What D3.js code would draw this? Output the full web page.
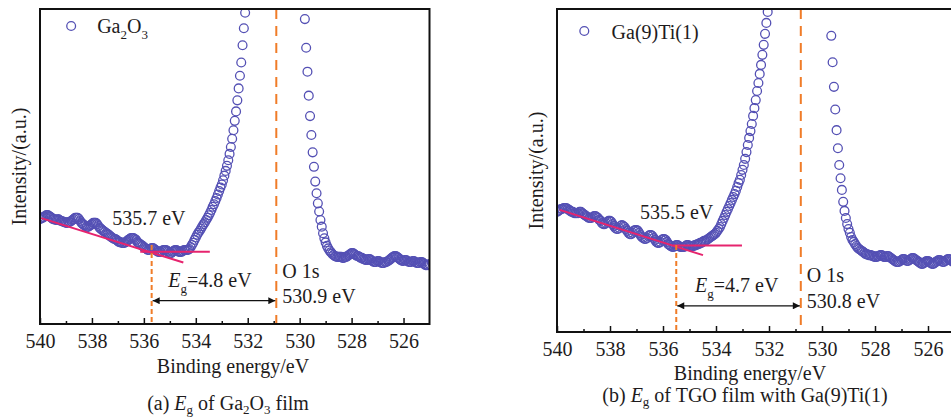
<!DOCTYPE html>
<html>
<head>
<meta charset="utf-8">
<script src="https://cdn.jsdelivr.net/npm/d3@7"></script>
<style>
  body { margin: 0; background: #fff; }
  svg { display: block; }
</style>
</head>
<body>
<div id="chart"></div>
<script>
// XPS scan: 540 eV down to 525 eV, one point every 0.05 eV
const scanStart = 540
const scanStep = 0.05

const xTicks = [540, 538, 536, 534, 532, 530, 528, 526]
const xMinorTicks = [539, 537, 535, 533, 531, 529, 527]

// O 1s region, intensity in a.u. (points above 100 run off the top of the frame)
const ga2o3Intensity = [
  33.3, 33.7, 33.7, 34.0, 34.3, 34.6, 34.6, 34.3, 34.0, 33.7,
  33.3, 33.3, 33.0, 33.0, 33.3, 33.0, 32.7, 32.7, 32.4, 32.4,
  32.1, 32.1, 32.4, 32.4, 32.7, 33.0, 33.3, 33.7, 33.7, 33.7,
  33.3, 32.7, 32.1, 31.7, 31.4, 31.1, 30.8, 30.8, 31.1, 31.4,
  31.7, 32.1, 32.1, 32.1, 31.7, 31.1, 30.5, 30.2, 29.8, 29.5,
  29.2, 28.9, 28.6, 28.3, 27.9, 27.6, 27.3, 27.0, 27.0, 26.7,
  26.3, 26.0, 26.0, 25.7, 25.7, 25.7, 26.0, 26.3, 26.7, 27.0,
  27.3, 27.3, 27.3, 27.0, 26.7, 26.0, 25.7, 25.4, 25.1, 24.8,
  24.4, 24.1, 23.8, 23.5, 23.5, 23.8, 24.1, 24.1, 23.8, 23.5,
  23.2, 22.9, 22.9, 22.9, 23.2, 23.5, 23.5, 23.5, 23.2, 22.9,
  22.5, 22.5, 22.9, 23.2, 23.5, 23.5, 23.2, 22.9, 22.9, 22.9,
  23.2, 23.5, 23.5, 23.5, 23.5, 23.8, 24.4, 25.1, 25.8, 26.7,
  27.5, 28.3, 29.0, 29.6, 30.3, 31.0, 31.7, 32.3, 33.0, 33.7,
  34.5, 35.3, 36.2, 37.2, 38.0, 39.0, 40.0, 41.1, 42.2, 43.3,
  44.3, 45.6, 47.1, 48.6, 50.2, 52.0, 54.0, 56.2, 58.8, 61.5,
  64.5, 67.5, 71.0, 74.8, 78.8, 83.0, 88.5, 93.9, 98.8, 104,
  110, 117, 125, 134, 144, 155, 167, 180, 194, 209,
  224, 240, 256, 272, 287, 301, 314, 326, 336, 345,
  352, 357, 360, 361, 360, 357, 352, 345, 335, 323,
  309, 293, 276, 258, 240, 222, 205, 188, 172, 157,
  143, 130, 118, 107, 96.8, 87.7, 80.1, 72.5, 66.0, 60.0,
  54.5, 49.9, 45.2, 41.5, 38.3, 35.7, 33.0, 30.9, 28.8, 27.2,
  25.9, 24.8, 24.0, 23.3, 22.8, 22.3, 21.9, 21.6, 21.4, 21.3,
  21.3, 21.3, 21.3, 21.0, 21.0, 21.3, 21.3, 21.6, 21.9, 22.2,
  22.5, 22.5, 22.2, 21.9, 21.6, 21.6, 21.3, 21.0, 21.0, 20.6,
  20.6, 20.3, 20.3, 20.6, 20.6, 20.3, 20.0, 19.7, 19.7, 19.7,
  20.0, 20.0, 19.7, 19.4, 19.4, 19.4, 19.7, 19.7, 20.0, 20.3,
  20.6, 21.0, 21.3, 21.6, 21.6, 21.3, 21.0, 20.6, 20.3, 20.0,
  20.0, 20.3, 20.3, 20.0, 19.7, 19.7, 19.7, 20.0, 20.0, 19.7,
  19.4, 19.4, 19.4, 19.7, 19.7, 19.4, 19.0, 18.7, 18.7, 18.7,
  19.0
]

const tgoIntensity = [
  37.2, 37.5, 37.8, 38.1, 38.1, 38.4, 38.4, 38.4, 38.1, 37.8,
  37.5, 37.2, 37.2, 36.8, 36.8, 36.8, 36.8, 37.2, 37.2, 36.8,
  36.5, 36.2, 35.9, 35.6, 35.3, 35.3, 35.3, 35.6, 35.9, 35.9,
  35.6, 35.3, 34.7, 34.4, 33.7, 33.4, 33.4, 33.7, 34.1, 34.4,
  34.4, 34.1, 33.4, 32.8, 32.2, 31.9, 31.9, 32.2, 32.8, 33.1,
  32.8, 32.5, 31.9, 31.3, 30.7, 30.3, 30.3, 30.7, 31.3, 31.6,
  31.6, 31.3, 30.7, 30.0, 29.4, 29.1, 28.8, 28.8, 29.1, 29.7,
  30.0, 30.0, 29.7, 29.1, 28.5, 27.9, 27.6, 27.6, 27.9, 28.5,
  28.8, 28.8, 28.5, 27.9, 27.2, 26.9, 26.6, 26.3, 26.3, 26.6,
  26.9, 26.9, 26.6, 26.3, 26.3, 26.3, 26.3, 26.6, 26.9, 26.9,
  26.6, 26.6, 26.6, 26.6, 26.9, 26.9, 27.2, 27.2, 27.6, 27.6,
  27.9, 28.2, 28.2, 28.5, 28.8, 29.1, 29.4, 29.7, 30.0, 30.3,
  30.7, 31.3, 31.9, 32.5, 33.4, 34.4, 35.3, 36.2, 37.2, 38.1,
  39.0, 39.9, 40.9, 41.8, 42.7, 43.7, 44.9, 46.1, 47.1, 48.6,
  50.2, 51.7, 53.6, 55.7, 57.9, 60.1, 62.2, 64.4, 66.9, 69.3,
  71.8, 74.6, 77.1, 79.9, 82.7, 85.8, 88.9, 92.3, 95.7, 99.1,
  103, 107, 112, 118, 125, 133, 142, 152, 163, 175,
  188, 202, 216, 231, 246, 260, 274, 287, 299, 309,
  318, 325, 330, 333, 334, 334, 333, 331, 328, 323,
  316, 308, 298, 287, 274, 260, 246, 231, 216, 201,
  186, 171, 157, 143, 130, 117, 104, 91.7, 83.5, 75.9,
  68.9, 62.5, 56.9, 51.7, 47.6, 44.0, 40.3, 37.5, 35.3, 33.4,
  31.9, 30.7, 29.4, 28.5, 27.9, 27.2, 26.6, 26.0, 25.7, 25.4,
  25.1, 24.8, 24.5, 24.1, 24.1, 23.8, 23.8, 23.8, 23.5, 23.5,
  23.2, 23.2, 23.5, 23.5, 23.8, 23.8, 23.5, 23.2, 23.2, 23.5,
  23.5, 23.2, 22.9, 22.6, 22.3, 22.0, 21.7, 21.7, 21.7, 22.0,
  22.3, 22.6, 22.6, 22.3, 22.0, 22.0, 22.3, 22.6, 22.9, 22.9,
  22.6, 22.3, 22.0, 21.7, 21.4, 21.1, 21.1, 21.4, 21.7, 22.0,
  22.0, 21.7, 21.4, 21.1, 21.1, 21.4, 21.7, 22.0, 22.3, 22.3,
  22.0, 21.7, 21.7, 22.0, 22.3, 22.6, 22.6, 22.3, 22.0, 21.7,
  21.7
]

// Linear fits (binding energy, intensity) used to find the loss onset
const ga2o3Slope = [[539.95, 33.6], [534.48, 19.5]]
const ga2o3Plateau = [[536.14, 22.9], [533.46, 22.9]]
const tgoSlope = [[539.9, 37.8], [534.49, 23.8]]
const tgoPlateau = [[535.62, 26.8], [533.02, 26.8]]

// Onset and O 1s core level positions (eV), and the band gap
const ga2o3Onset = 535.7, ga2o3O1s = 530.9, ga2o3Gap = 4.8
const tgoOnset = 535.5, tgoO1s = 530.8, tgoGap = 4.7

const serif = '"Liberation Serif", "Times New Roman", serif'
const textColor = '#1e1b1c'
const circleColor = '#5450b4'
const fitColor = '#e6246e'
const markerColor = '#f07c28'

const width = 951
const height = 418

const svg = d3.select('#chart')
  .append('svg')
  .attr('width', width)
  .attr('height', height)
  .attr('font-family', serif)

svg.append('rect').attr('width', width).attr('height', height).attr('fill', '#fff')

// Arrow head shared by both Eg arrows
svg.append('defs').append('marker')
  .attr('id', 'arrow-head')
  .attr('viewBox', '0 0 10 10')
  .attr('refX', 10)
  .attr('refY', 5)
  .attr('markerUnits', 'userSpaceOnUse')
  .attr('markerWidth', 10)
  .attr('markerHeight', 7)
  .attr('orient', 'auto-start-reverse')
  .append('path')
  .attr('d', 'M0,0L10,5L0,10Z')
  .attr('fill', '#111')

const panels = [
  {
    left: 40, right: 429.5, top: 9, bottom: 324,
    intensity: ga2o3Intensity, slope: ga2o3Slope, plateau: ga2o3Plateau,
    onset: ga2o3Onset, o1s: ga2o3O1s, gap: ga2o3Gap, onsetTop: 25.1,
    onsetLabel: [537.22, 31.4], gapLabel: [535.06, 11.7], o1sLabel: [14.6, 6.8], arrowLevel: 7.4,
    legendMark: [538.8, 94.6], legendText: [537.8, 92.4],
    legend: [['Ga', false], ['2', true], ['O', false], ['3', true]],
    yLabelX: 26, titleX: 233, titleY: 372.7, captionX: 228, captionY: 409.5,
    caption: [['(a) ', false], ['E', 'i'], ['g', true], [' of Ga', false], ['2', true], ['O', false], ['3', true], [' film', false]]
  },
  {
    left: 557, right: 954.5, top: 9, bottom: 332,
    intensity: tgoIntensity, slope: tgoSlope, plateau: tgoPlateau,
    onset: tgoOnset, o1s: tgoO1s, gap: tgoGap, onsetTop: 26.9,
    onsetLabel: [536.87, 35.0], gapLabel: [534.79, 12.5], o1sLabel: [15.6, 7.3], arrowLevel: 8.1,
    legendMark: [538.97, 93.2], legendText: [537.94, 90.7],
    legend: [['Ga(9)Ti(1)', false]],
    yLabelX: 543, titleX: 750, titleY: 380, captionX: 745, captionY: 401.7,
    caption: [['(b) ', false], ['E', 'i'], ['g', true], [' of TGO film with Ga(9)Ti(1)', false]]
  }
]

// Write a label made of plain, italic and subscript pieces
function addRich(sel, parts, subSize, drop = 6) {
  let shifted = false
  parts.forEach(([txt, kind]) => {
    const t = sel.append('tspan').text(txt)
    if (kind === 'i') t.attr('font-style', 'italic')
    if (kind === true) {
      t.attr('font-size', subSize)
      if (!shifted) { t.attr('dy', drop); shifted = true }
    } else if (shifted) {
      t.attr('dy', -drop)
      shifted = false
    }
  })
}

panels.forEach((p, idx) => {
  const x = d3.scaleLinear().domain([540, 525]).range([p.left, p.right])
  const y = d3.scaleLinear().domain([0, 100]).range([p.bottom, p.top])
  const clipId = `plot-clip-${idx}`

  svg.append('clipPath')
    .attr('id', clipId)
    .append('rect')
    .attr('x', p.left)
    .attr('y', p.top)
    .attr('width', p.right - p.left)
    .attr('height', p.bottom - p.top)

  const g = svg.append('g')

  // Measured points as open circles
  g.append('g')
    .attr('clip-path', `url(#${clipId})`)
    .selectAll('circle')
    .data(p.intensity)
    .join('circle')
    .attr('cx', (d, k) => x(scanStart - k * scanStep))
    .attr('cy', d => y(d))
    .attr('r', 4.4)
    .attr('fill', 'none')
    .attr('stroke', circleColor)
    .attr('stroke-width', 1.3)

  // Fit lines
  const fitLine = d3.line().x(d => x(d[0])).y(d => y(d[1]))
  ;[p.slope, p.plateau].forEach(seg => {
    g.append('path')
      .attr('d', fitLine(seg))
      .attr('fill', 'none')
      .attr('stroke', fitColor)
      .attr('stroke-width', 2)
  })

  // Onset marker and O 1s position
  g.append('line')
    .attr('x1', x(p.onset)).attr('x2', x(p.onset))
    .attr('y1', y(p.onsetTop)).attr('y2', p.bottom)
    .attr('stroke', markerColor)
    .attr('stroke-width', 2)
    .attr('stroke-dasharray', '5,3')
  g.append('line')
    .attr('x1', x(p.o1s)).attr('x2', x(p.o1s))
    .attr('y1', p.top).attr('y2', p.bottom)
    .attr('stroke', markerColor)
    .attr('stroke-width', 2)
    .attr('stroke-dasharray', '10,7')

  // Double arrow spanning Eg
  g.append('line')
    .attr('x1', x(p.onset) + 1).attr('x2', x(p.o1s) - 1)
    .attr('y1', y(p.arrowLevel)).attr('y2', y(p.arrowLevel))
    .attr('stroke', '#111')
    .attr('stroke-width', 1.3)
    .attr('marker-start', 'url(#arrow-head)')
    .attr('marker-end', 'url(#arrow-head)')

  // Frame
  g.append('rect')
    .attr('x', p.left)
    .attr('y', p.top)
    .attr('width', p.right - p.left)
    .attr('height', p.bottom - p.top)
    .attr('fill', 'none')
    .attr('stroke', '#111')
    .attr('stroke-width', 2)

  // Bottom axis, ticks pointing inward
  g.append('g')
    .attr('transform', `translate(0,${p.bottom})`)
    .call(d3.axisBottom(x).tickValues(xTicks).tickSize(-6).tickPadding(10).tickFormat(d3.format('d')))
    .call(a => a.select('.domain').remove())
    .call(a => a.attr('font-family', serif))
    .call(a => a.selectAll('.tick line').attr('stroke', '#111').attr('stroke-width', 1.5))
    .call(a => a.selectAll('.tick text').attr('font-size', 20).attr('fill', textColor))
  g.append('g')
    .attr('transform', `translate(0,${p.bottom})`)
    .call(d3.axisBottom(x).tickValues(xMinorTicks).tickSize(-3).tickFormat(''))
    .call(a => a.select('.domain').remove())
    .call(a => a.selectAll('.tick line').attr('stroke', '#111').attr('stroke-width', 1.5))

  const label = (xx, yy) => g.append('text')
    .attr('x', xx).attr('y', yy)
    .attr('font-size', 20)
    .attr('fill', textColor)

  label(x(p.onsetLabel[0]), y(p.onsetLabel[1])).text(`${p.onset} eV`)
  addRich(label(x(p.gapLabel[0]), y(p.gapLabel[1])),
    [['E', 'i'], ['g', true], [`=${p.gap} eV`, false]], 13)
  label(x(p.o1s) + 6, y(p.o1sLabel[0])).text('O 1s')
  label(x(p.o1s) + 6, y(p.o1sLabel[1])).text(`${p.o1s} eV`)

  // Legend
  g.append('circle')
    .attr('cx', x(p.legendMark[0]))
    .attr('cy', y(p.legendMark[1]))
    .attr('r', 4.4)
    .attr('fill', 'none')
    .attr('stroke', circleColor)
    .attr('stroke-width', 1.3)
  addRich(label(x(p.legendText[0]), y(p.legendText[1])), p.legend, 13)

  // Axis titles and caption
  label(p.titleX, p.titleY).attr('text-anchor', 'middle').text('Binding energy/eV')
  g.append('text')
    .attr('transform', `translate(${p.yLabelX},${(p.top + p.bottom) / 2}) rotate(-90)`)
    .attr('text-anchor', 'middle')
    .attr('font-size', 20)
    .attr('fill', textColor)
    .text('Intensity/(a.u.)')
  addRich(label(p.captionX, p.captionY).attr('text-anchor', 'middle'), p.caption, 13, 4)
})
</script>
</body>
</html>
